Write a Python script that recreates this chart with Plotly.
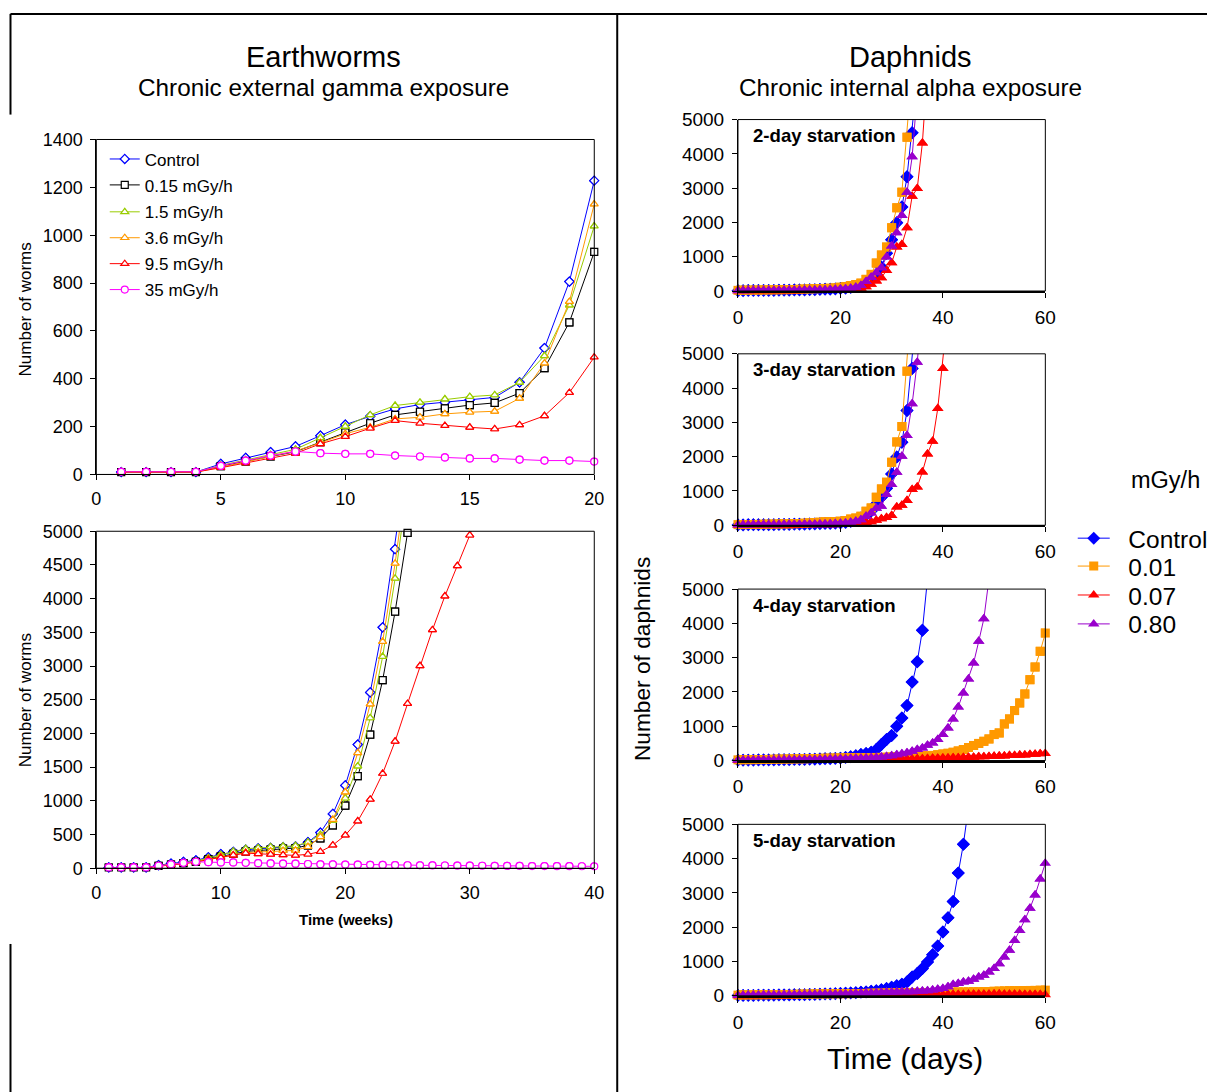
import plotly.graph_objects as go

OFF = 8                     # default body margin of the page
W, H = 1225, 1100           # figure size (page px)
FONT = "Liberation Sans, Arial, sans-serif"
# screenshot mapping measured from earlier renders: shot = A + B * page
AX, BX, AY, BY = 4.6, 0.989, 8.25, 0.984

# ---------------- Earthworm data (number of worms per week) ----------------
weeks = list(range(1, 41))
ew_control = [10, 10, 10, 10, 44, 69, 93, 117, 162, 208, 243, 274, 292, 301, 312, 322, 385, 528, 806, 1228,
              1834, 2608, 3575, 4734, 6100]
ew_015 = [10, 10, 10, 10, 35, 55, 75, 95, 135, 176, 214, 249, 262, 276, 290, 299, 340, 444, 636, 930,
          1366, 1982, 2791, 3806, 4975, 6300]
ew_15 = [10, 10, 10, 10, 38, 60, 82, 105, 153, 201, 249, 288, 301, 315, 325, 332, 385, 496, 708, 1038,
         1514, 2229, 3141, 4300, 5700]
ew_36 = [10, 10, 10, 10, 30, 52, 75, 98, 132, 170, 197, 232, 239, 253, 260, 264, 318, 465, 722, 1130,
         1711, 2436, 3363, 4522, 5900]
ew_95 = [10, 10, 10, 10, 28, 48, 70, 88, 128, 158, 193, 225, 214, 204, 197, 190, 207, 245, 342, 490,
         700, 1021, 1405, 1883, 2441, 3003, 3536, 4038, 4487, 4941, 5500]
ew_35 = [11, 11, 11, 11, 36, 58, 79, 96, 89, 86, 86, 79, 75, 71, 67, 67, 62, 58, 58, 54,
         52, 50, 48, 46, 44, 42, 41, 40, 38, 37, 36, 35, 34, 33, 32, 31, 30, 30, 29, 28]
ew_names = ["Control", "0.15 mGy/h", "1.5 mGy/h", "3.6 mGy/h", "9.5 mGy/h", "35 mGy/h"]

# ---------------- Daphnid data (number of daphnids per day) ----------------
days = list(range(0, 61))
dp_names = ["Control", "0.01", "0.07", "0.80"]
panel_titles = ["2-day starvation", "3-day starvation", "4-day starvation", "5-day starvation"]

# 2-day starvation
c1 = [10, 10, 12, 12, 14, 15, 17, 18, 20, 22, 25, 28, 30, 33, 36, 40, 45, 50, 55, 62, 70, 80, 100, 130, 170,
      240, 330, 480, 700, 1100, 1495, 1990, 2447, 3330, 4612, 6200]
o1 = [20, 20, 22, 24, 25, 27, 30, 32, 35, 38, 40, 45, 50, 55, 60, 65, 70, 75, 80, 90, 110, 130, 160, 190, 230,
      340, 485, 816, 1049, 1282, 1845, 2427, 2883, 4485, 6500]
r1 = [5, 5, 5, 6, 6, 7, 7, 8, 8, 9, 10, 10, 11, 12, 13, 14, 15, 17, 19, 21, 24, 30, 40, 55, 80,
      126, 194, 291, 388, 602, 825, 1282, 1359, 1845, 2767, 2990, 4320, 6500]
p1 = [10, 10, 11, 12, 13, 14, 15, 16, 18, 20, 22, 24, 26, 28, 30, 33, 36, 40, 45, 50, 56, 65, 80, 110, 160,
      280, 400, 534, 680, 990, 1311, 1700, 2204, 2883, 3913, 5800]
# 3-day starvation
c2 = [10, 10, 12, 12, 14, 15, 17, 18, 20, 22, 25, 28, 30, 33, 36, 40, 45, 50, 55, 62, 70, 80, 110, 150, 210,
      300, 420, 620, 820, 1080, 1498, 1994, 2422, 3346, 4572, 6500]
o2 = [20, 20, 22, 24, 25, 27, 30, 32, 35, 38, 40, 45, 50, 60, 70, 80, 90, 100, 105, 110, 120, 140, 180, 210, 263,
      409, 506, 817, 1060, 1255, 1838, 2432, 2879, 4494, 6800]
r2 = [5, 5, 5, 6, 6, 7, 7, 8, 8, 9, 10, 10, 11, 12, 13, 14, 15, 16, 17, 18, 20, 25, 30, 40, 60,
      80, 100, 150, 190, 230, 282, 535, 584, 720, 1041, 1119, 1556, 2082, 2451, 3405, 4572, 6300]
p2 = [10, 10, 11, 12, 13, 14, 15, 16, 18, 20, 22, 24, 26, 28, 30, 33, 36, 40, 45, 50, 56, 65, 90, 120, 160,
      260, 360, 500, 554, 895, 1187, 1547, 2014, 2617, 3541, 4757, 6500]
# 4-day starvation
c3 = [10, 10, 12, 12, 14, 15, 17, 18, 20, 22, 25, 28, 30, 33, 36, 40, 45, 50, 55, 62, 70, 90, 110, 140, 175,
      204, 243, 320, 466, 612, 728, 1000, 1243, 1602, 2291, 2883, 3796, 5300]
o3 = [20, 22, 24, 26, 28, 30, 32, 35, 38, 40, 42, 45, 48, 50, 55, 60, 62, 65, 68, 70, 72, 75, 78, 80, 82,
      85, 88, 90, 92, 95, 100, 105, 110, 115, 120, 125, 130, 140, 150, 170, 190, 210, 240, 280, 320,
      380, 440, 500, 560, 631, 757, 806, 1068, 1214, 1456, 1680, 1942, 2359, 2728, 3184, 3718]
r3 = [2, 2, 3, 3, 3, 4, 4, 4, 5, 5, 5, 6, 6, 6, 7, 7, 8, 8, 9, 9, 10, 11, 12, 13, 15, 17, 19, 22, 25, 28,
      30, 36, 37, 44, 45, 52, 55, 56, 64, 66, 72, 74, 83, 84, 90, 98, 99, 108, 110, 121, 122, 131, 134,
      145, 148, 160, 163, 176, 180, 195, 205]
p3 = [10, 10, 11, 12, 13, 14, 15, 16, 18, 20, 22, 24, 26, 28, 30, 33, 36, 40, 44, 47, 50, 55, 60, 65, 70,
      75, 80, 90, 100, 120, 140, 170, 200, 230, 272, 320, 369, 447, 515, 612, 757, 951, 1214, 1563, 1971,
      2379, 2845, 3476, 4136, 5300]
# 5-day starvation
c4 = [10, 10, 12, 12, 14, 15, 17, 18, 20, 22, 25, 28, 30, 33, 36, 40, 45, 50, 55, 60, 65, 72, 80, 90, 100,
      110, 130, 150, 180, 213, 250, 290, 338, 406, 551, 648, 793, 986, 1199, 1451, 1857, 2273, 2747, 3578,
      4420, 5500]
o4 = [20, 21, 24, 25, 28, 30, 31, 34, 35, 38, 40, 41, 44, 46, 47, 50, 52, 53, 56, 58, 60, 61, 64, 66, 67,
      70, 72, 73, 76, 78, 80, 83, 84, 86, 89, 90, 92, 95, 96, 99, 100, 104, 106, 108, 111, 113, 116, 119,
      120, 126, 130, 136, 140, 146, 148, 151, 152, 156, 158, 161, 165]
r4 = [2, 2, 2, 3, 3, 3, 4, 4, 4, 5, 5, 5, 6, 6, 7, 7, 8, 8, 9, 9, 10, 10, 11, 12, 13, 14, 15, 16, 17, 18,
      19, 20, 22, 23, 24, 25, 27, 28, 30, 31, 33, 35, 37, 38, 40, 42, 44, 45, 47, 48, 50, 49, 47, 46, 44,
      42, 41, 39, 37, 35, 33]
p4 = [10, 12, 14, 16, 18, 20, 22, 24, 26, 28, 30, 32, 34, 36, 38, 40, 42, 44, 46, 48, 50, 55, 60, 65, 72,
      80, 85, 90, 95, 100, 105, 110, 115, 118, 120, 130, 140, 150, 170, 190, 213, 261, 329, 358, 406, 426,
      484, 551, 600, 696, 793, 938, 1132, 1325, 1615, 1905, 2215, 2553, 2940, 3404, 3868]

panels = [[c1, o1, r1, p1], [c2, o2, r2, p2], [c3, o3, r3, p3], [c4, o4, r4, p4]]

# ---------------- styles ----------------
ew_colors = ["#0000FF", "#000000", "#99CC00", "#FF9900", "#FF0000", "#FF00FF"]
ew_symbols = ["diamond", "square", "triangle-up", "triangle-up", "triangle-up", "circle"]
dp_colors = ["#0000FF", "#FF9900", "#FF0000", "#9900CC"]
dp_symbols = ["diamond", "square", "triangle-up", "triangle-up"]
dp_sizes = [10, 9, 10, 10]


# target screenshot pixel -> page pixel -> paper fraction
def pgx(x):
    return (x - AX) / BX


def pgy(y):
    return (y - AY) / BY


def px(x):
    return (pgx(x) - OFF) / W


def py(y):
    return 1 - (pgy(y) - OFF) / H


def xd(a, b):
    return [px(a), px(b)]


def yd(top, bottom):
    return [py(bottom), py(top)]


fig = go.Figure()


def add_series(xa, ya, xs, ys, ymax, color, marker, name=None, legend=None, showlegend=False, lw=1):
    xs = xs[:len(ys)]
    fig.add_trace(go.Scatter(x=xs, y=ys, mode="lines+markers", line=dict(color=color, width=lw),
                             marker=marker, xaxis=xa, yaxis=ya, name=name, legend=legend,
                             showlegend=showlegend, cliponaxis=True))
    inx = [x for x, y in zip(xs, ys) if y <= ymax]
    iny = [y for y in ys if y <= ymax]
    fig.add_trace(go.Scatter(x=inx, y=iny, mode="markers", marker=marker, xaxis=xa, yaxis=ya,
                             showlegend=False, cliponaxis=False, hoverinfo="skip"))


legends = {}
left_leg_y = [159, 185, 212, 238, 264, 290]
right_leg_y = [538, 566, 595, 624]

ew_all = [ew_control, ew_015, ew_15, ew_36, ew_95, ew_35]
for i, vals in enumerate(ew_all):
    mk = dict(symbol=ew_symbols[i], size=7, color="white", line=dict(color=ew_colors[i], width=1.2))
    lg = "legend" if i == 0 else "legend%d" % (i + 1)
    legends[lg] = dict(x=(pgx(110) - 5.6 - OFF) / W, y=py(left_leg_y[i] - 1), xanchor="left", yanchor="middle",
                       bgcolor="rgba(0,0,0,0)", font=dict(family=FONT, size=17, color="black"), itemwidth=30)
    add_series("x", "y", weeks[:20], vals[:20], 1400, ew_colors[i], mk, ew_names[i], lg, True)
for i, vals in enumerate(ew_all):
    mk = dict(symbol=ew_symbols[i], size=7, color="white", line=dict(color=ew_colors[i], width=1.2))
    add_series("x2", "y2", weeks, vals, 5000, ew_colors[i], mk)

for p, series in enumerate(panels):
    xa, ya = "x%d" % (p + 3), "y%d" % (p + 3)
    for i, vals in enumerate(series):
        mk = dict(symbol=dp_symbols[i], size=dp_sizes[i], color=dp_colors[i], line=dict(width=0))
        lg = "legend%d" % (i + 7)
        if p == 0:
            legends[lg] = dict(x=(pgx(1080) - 5.6 - OFF) / W, y=py(right_leg_y[i]), xanchor="left",
                               yanchor="middle", bgcolor="rgba(0,0,0,0)",
                               font=dict(family=FONT, size=24.5, color="black"), itemwidth=32)
        add_series(xa, ya, days, vals, 5000, dp_colors[i], mk, "&nbsp;&nbsp;" + dp_names[i], lg, p == 0)

tickfont_l = dict(family=FONT, size=18, color="black")
tickfont_r = dict(family=FONT, size=19, color="black")


def axis(domain, rng, dtick, tickfont, lw=1, anchor=None, standoff=0):
    d = dict(domain=domain, range=rng, dtick=dtick, tick0=0, showgrid=False, zeroline=False,
             showline=True, linecolor="black", linewidth=lw, ticks="outside", ticklen=5,
             tickcolor="black", tickfont=tickfont, fixedrange=True, ticklabelstandoff=standoff)
    if anchor:
        d["anchor"] = anchor
    return d


layout = dict(
    width=W, height=H, margin=dict(l=0, r=0, t=0, b=0),
    paper_bgcolor="white", plot_bgcolor="white", font=dict(family=FONT, color="black"),
    xaxis=axis(xd(96, 595), [0, 20], 5, tickfont_l, anchor="y", standoff=3),
    yaxis=axis(yd(138, 474), [0, 1400], 200, tickfont_l, anchor="x", standoff=4),
    xaxis2=axis(xd(96, 595), [0, 40], 10, tickfont_l, anchor="y2", standoff=3),
    yaxis2=axis(yd(531, 869), [0, 5000], 500, tickfont_l, anchor="x2", standoff=4),
    showlegend=True,
)
layout.update(legends)
right_tops = [118, 353, 589, 825]
for p, top in enumerate(right_tops):
    n = p + 3
    layout["xaxis%d" % n] = axis(xd(739, 1047), [0, 60], 20, tickfont_r, lw=2, anchor="y%d" % n, standoff=3)
    layout["yaxis%d" % n] = axis(yd(top, top + 172), [0, 5000], 1000, tickfont_r, anchor="x%d" % n, standoff=4)
fig.update_layout(**layout)

# frames of each plot area
shapes = []
for n in ["", "2", "3", "4", "5", "6"]:
    shapes.append(dict(type="rect", xref="x%s domain" % n, yref="y%s domain" % n, x0=0, x1=1, y0=0, y1=1,
                       line=dict(color="black", width=1), fillcolor="rgba(0,0,0,0)", layer="above"))


def pline(x0, y0, x1, y1, w=2):
    return dict(type="line", xref="paper", yref="paper", x0=px(x0), x1=px(x1), y0=py(y0), y1=py(y1),
                line=dict(color="black", width=w))


shapes += [pline(10, 12, 1220, 12), pline(618, 12, 618, 1095), pline(10, 12, 10, 113), pline(10, 945, 10, 1095)]
fig.update_layout(shapes=shapes)

ann = []


def text(x, y, s, size, bold=False, angle=0, xanchor="center"):
    ann.append(dict(xref="paper", yref="paper", x=px(x), y=py(y), text=("<b>%s</b>" % s) if bold else s,
                    showarrow=False, xanchor=xanchor, yanchor="middle", textangle=angle,
                    font=dict(family=FONT, size=size, color="black")))


text(324, 55, "Earthworms", 29)
text(324, 86, "Chronic external gamma exposure", 24.3)
text(912, 55, "Daphnids", 29)
text(912, 86, "Chronic internal alpha exposure", 24.3)
text(25, 308, "Number of worms", 17, angle=-90)
text(25, 700, "Number of worms", 17, angle=-90)
text(346, 920, "Time (weeks)", 15, bold=True)
text(643, 659, "Number of daphnids", 22.7, angle=-90)
text(906, 1060, "Time (days)", 29.8)
text(1131, 480, "mGy/h", 23.5, xanchor="left")
for p, top in enumerate(right_tops):
    text(752, top + 16, panel_titles[p], 18.6, bold=True, xanchor="left")
fig.update_layout(annotations=ann)

fig.write_html("out.html", config={"displayModeBar": False})
